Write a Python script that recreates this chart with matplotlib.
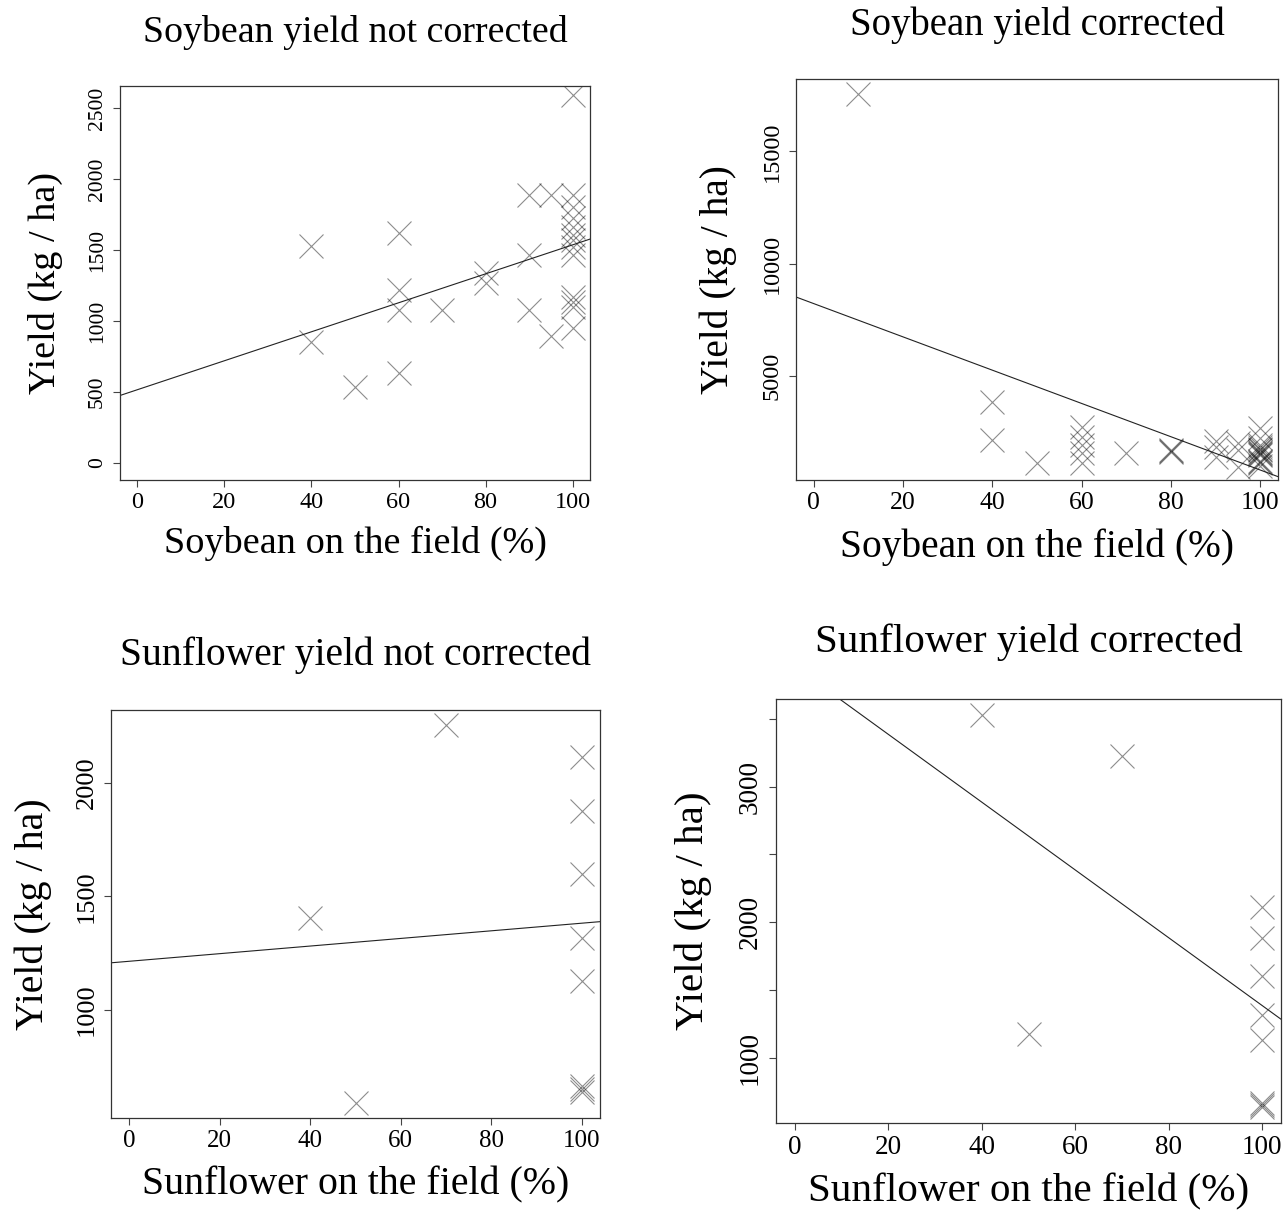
import numpy as np, matplotlib
matplotlib.use("Agg")
import matplotlib.pyplot as plt

plt.rcParams['font.family'] = ['Liberation Serif', 'DejaVu Serif']

# ── Data ──────────────────────────────────────────────────────
soy_pct = [40, 40, 50, 60, 60, 60, 60, 70, 80, 80, 90, 90, 90, 95, 95,
           100, 100, 100, 100, 100, 100, 100, 100, 100, 100, 100, 100, 100]
soy_raw = [1530, 855, 537, 1622, 1218, 1077, 632, 1077, 1336, 1265, 1887, 1465, 1077, 1887, 894,
           2592, 1887, 1805, 1725, 1664, 1606, 1570, 1523, 1465, 1171, 1136, 1100, 948]

soy_pct_c = [10, 40, 40, 50, 60, 60, 60, 60, 60, 70, 80, 80, 80, 90, 90, 90, 95, 95, 95,
             100, 100, 100, 100, 100, 100, 100, 100, 100, 100, 100, 100, 100, 100]
soy_cor   = [17570, 3839, 2129, 1116, 2723, 2277, 1906, 1536, 1089, 1563, 1670, 1652, 1600,
             2097, 1830, 1384, 1986, 1700, 941,
             2652, 2200, 1900, 1805, 1725, 1664, 1606, 1570, 1523, 1465, 1171, 1136, 1100, 948]

sun_pct = [40, 50, 70, 100, 100, 100, 100, 100, 100, 100, 100]
sun_raw = [1406, 586, 2254, 2112, 1875, 1596, 1314, 1125, 665, 650, 635]
sun_cor = [3530, 1173, 3222, 2115, 1882, 1600, 1315, 1131, 665, 650, 635]

# regression lines (intercept, slope)
fits = [(516, 10.2), (8211, -74.2), (1213, 1.68), (3885, -25.0)]

titles  = ["Soybean yield not corrected", "Soybean yield corrected",
           "Sunflower yield not corrected", "Sunflower yield corrected"]
xlabels = ["Soybean on the field (%)", "Soybean on the field (%)",
           "Sunflower on the field (%)", "Sunflower on the field (%)"]
xticks  = [0, 20, 40, 60, 80, 100]
yticks  = [[0, 500, 1000, 1500, 2000, 2500], [5000, 10000, 15000],
           [1000, 1500, 2000], [1000, 1500, 2000, 2500, 3000, 3500]]
ytlabels = [[str(v) for v in yticks[0]], [str(v) for v in yticks[1]],
            [str(v) for v in yticks[2]], ["1000", "", "2000", "", "3000", ""]]
ylims = [(-120, 2655), (344, 18232), (522, 2321), (520, 3645)]

# ── Layout (pixel boxes: left, right, top, bottom) ────────────
W, H = 1288, 1213
boxes   = [(120, 590, 86, 480), (796, 1278, 79, 480), (111, 600, 710, 1118), (776, 1281, 699, 1123)]
title_y = [33, 25, 655, 642]
xlab_y  = [543, 547, 1185, 1192]
ylab_x  = [45, 718, 33, 693]
fs_title = [27.3, 27.9, 28.5, 29.6]
fs_lab   = [27.5, 28.4, 28.7, 29.6]
fs_xt    = [17.5, 18.5, 18, 19.5]
fs_yt    = [15.5, 17.5, 19, 19.5]

fig = plt.figure(figsize=(W/100, H/100), dpi=100)
data = [(soy_pct, soy_raw), (soy_pct_c, soy_cor), (sun_pct, sun_raw), (sun_pct, sun_cor)]

for i, (xs, ys) in enumerate(data):
    l, r, t, b = boxes[i]
    ax = fig.add_axes([l/W, 1-b/H, (r-l)/W, (b-t)/H])
    ax.plot(xs, ys, ls='none', marker='x', ms=17, mew=0.8, color='black', alpha=0.45)
    xx = np.array([-10, 110])
    a, s = fits[i]
    ax.plot(xx, a + s*xx, color='#222222', lw=0.8)
    ax.set_xlim(-4, 104); ax.set_ylim(*ylims[i])
    ax.set_xticks(xticks); ax.set_xticklabels([str(v) for v in xticks], fontsize=fs_xt[i])
    ax.set_yticks(yticks[i])
    ax.set_yticklabels(ytlabels[i], fontsize=fs_yt[i], rotation=90, va='center')
    ax.tick_params(axis='x', length=5, width=0.8, color='#444444', pad=3.5)
    ax.tick_params(axis='y', length=5, width=0.8, color='#444444', pad=4.5)
    for sp in ax.spines.values():
        sp.set_linewidth(0.9); sp.set_color('#333333')
    cx = (l + r) / 2
    fig.text(cx/W, 1-title_y[i]/H, titles[i], fontsize=fs_title[i], ha='center', va='center')
    fig.text(cx/W, 1-xlab_y[i]/H, xlabels[i], fontsize=fs_lab[i], ha='center', va='center')
    fig.text(ylab_x[i]/W, 1-((t+b)/2)/H, "Yield (kg / ha)", fontsize=fs_lab[i],
             ha='center', va='center', rotation=90)

fig.savefig("out.png", dpi=100)
